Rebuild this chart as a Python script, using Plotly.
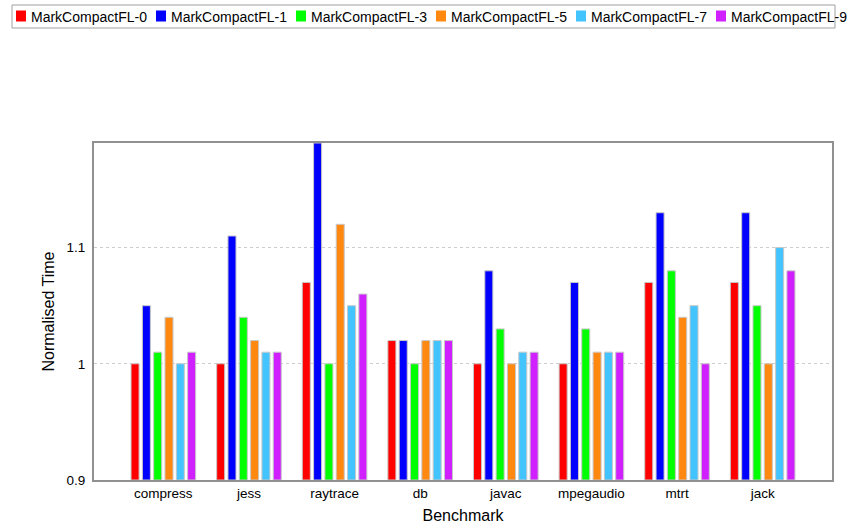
import plotly.graph_objects as go

benchmarks = ["compress", "jess", "raytrace", "db", "javac", "mpegaudio", "mtrt", "jack"]

series_names = [
    "MarkCompactFL-0", "MarkCompactFL-1", "MarkCompactFL-3",
    "MarkCompactFL-5", "MarkCompactFL-7", "MarkCompactFL-9",
]

fl0 = [1.00, 1.00, 1.07, 1.02, 1.00, 1.00, 1.07, 1.07]
fl1 = [1.05, 1.11, 1.19, 1.02, 1.08, 1.07, 1.13, 1.13]
fl3 = [1.01, 1.04, 1.00, 1.00, 1.03, 1.03, 1.08, 1.05]
fl5 = [1.04, 1.02, 1.12, 1.02, 1.00, 1.01, 1.04, 1.00]
fl7 = [1.00, 1.01, 1.05, 1.02, 1.01, 1.01, 1.05, 1.10]
fl9 = [1.01, 1.01, 1.06, 1.02, 1.01, 1.01, 1.00, 1.08]

colors = ["#ff0000", "#0000ff", "#00ff00", "#ff8811", "#44c4ff", "#d020ff"]

W, H = 847, 525
ML, MR, MT, MB = 94, 15, 143, 45
PW, PH = W - ML - MR, H - MT - MB

base = 0.9
font_family = "Liberation Sans, Arial, sans-serif"

fig = go.Figure()
for name, vals, col in zip(series_names, [fl0, fl1, fl3, fl5, fl7, fl9], colors):
    fig.add_trace(go.Bar(
        name=name,
        x=benchmarks,
        y=[v - base for v in vals],
        base=base,
        marker=dict(color=col, line=dict(color="#c8c8c8", width=1)),
        showlegend=False,
    ))


def px_x(px):
    return (px - ML) / PW


def px_y(py):
    return (H - MB - py) / PH


# legend strip along the top of the page
shapes = [dict(
    type="rect", xref="paper", yref="paper",
    x0=px_x(12), x1=px_x(835), y0=px_y(28), y1=px_y(5),
    line=dict(color="#a0a0a0", width=1), fillcolor="white", layer="below",
)]
annotations = []
entry_step = 140.0
for i, (name, col) in enumerate(zip(series_names, colors)):
    sx = 16 + entry_step * i
    shapes.append(dict(
        type="rect", xref="paper", yref="paper",
        x0=px_x(sx), x1=px_x(sx + 10), y0=px_y(21.5), y1=px_y(10.5),
        line=dict(width=0), fillcolor=col,
    ))
    annotations.append(dict(
        xref="paper", yref="paper", x=px_x(sx + 13), y=px_y(16.5),
        text=name, showarrow=False, xanchor="left", yanchor="middle",
        font=dict(size=14, color="black", family=font_family),
    ))

fig.update_layout(
    width=W, height=H,
    margin=dict(l=ML, r=MR, t=MT, b=MB, autoexpand=False),
    paper_bgcolor="white",
    plot_bgcolor="white",
    barmode="group",
    bargap=0.207,
    bargroupgap=0.29,
    font=dict(family=font_family, size=13.5, color="black"),
    showlegend=False,
    shapes=shapes,
    annotations=annotations,
)

fig.update_xaxes(
    title=dict(text="Benchmark", font=dict(size=16), standoff=10),
    automargin=False,
    range=[-0.81, 7.81],
    showline=True, linecolor="#909090", linewidth=2, mirror=True,
    ticks="", showgrid=False, ticklabelstandoff=0,
)
fig.update_yaxes(
    title=dict(text="Normalised Time", font=dict(size=16), standoff=8),
    automargin=False,
    range=[0.9, 1.19],
    tickvals=[0.9, 1.0, 1.1],
    ticktext=["0.9", "1", "1.1"],
    ticks="", showline=True, linecolor="#909090", linewidth=2, mirror=True,
    showgrid=True, gridcolor="#cccccc", griddash="dot", gridwidth=1,
    zeroline=False, ticklabelstandoff=4,
)

fig.write_html("out.html")
